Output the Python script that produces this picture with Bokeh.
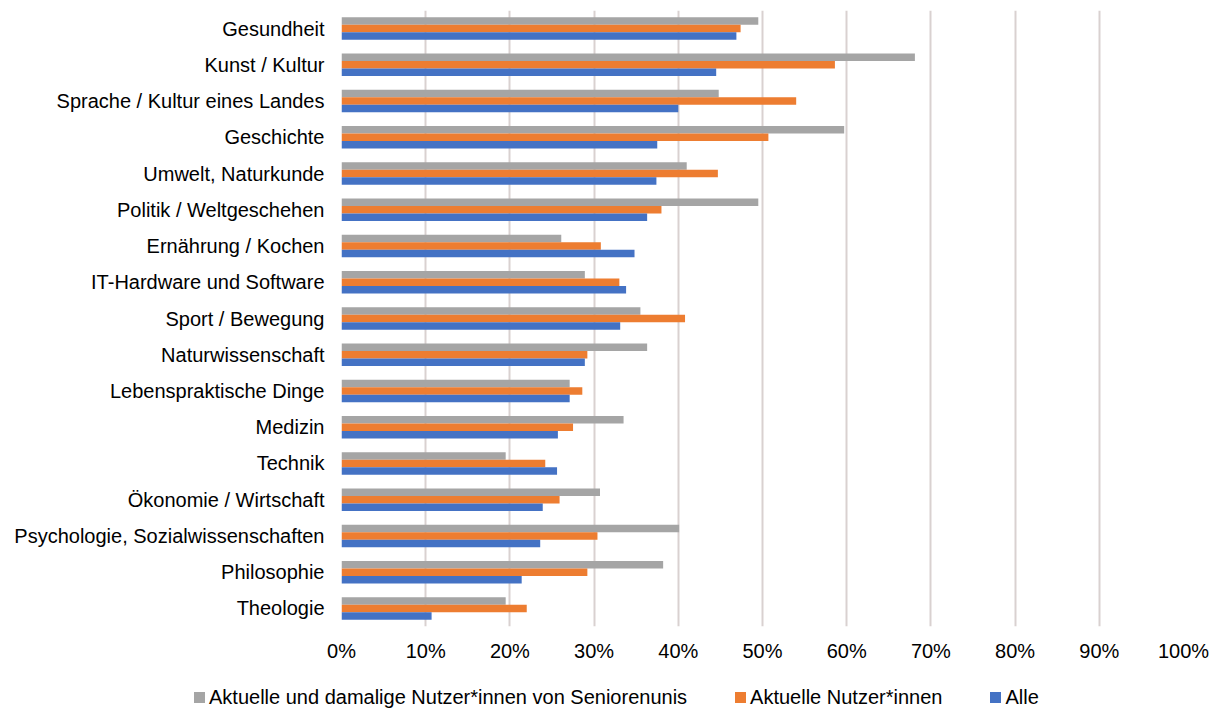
from bokeh.plotting import figure
from bokeh.layouts import column
from bokeh.models import ColumnDataSource, FactorRange, Range1d, NumeralTickFormatter, FixedTicker, Div
from bokeh.transform import dodge
from bokeh.embed import file_html
from bokeh.resources import INLINE

categories = ["Gesundheit", "Kunst / Kultur", "Sprache / Kultur eines Landes", "Geschichte",
              "Umwelt, Naturkunde", "Politik / Weltgeschehen", "Ernährung / Kochen",
              "IT-Hardware und Software", "Sport / Bewegung", "Naturwissenschaft",
              "Lebenspraktische Dinge", "Medizin", "Technik", "Ökonomie / Wirtschaft",
              "Psychologie, Sozialwissenschaften", "Philosophie", "Theologie"]
senioren = [49.5, 68.1, 44.8, 59.7, 41.0, 49.5, 26.1, 28.9, 35.5, 36.3, 27.1, 33.5, 19.5, 30.7, 40.1, 38.2, 19.5]
aktuelle = [47.4, 58.6, 54.0, 50.7, 44.7, 38.0, 30.8, 33.0, 40.8, 29.2, 28.6, 27.5, 24.2, 25.9, 30.4, 29.2, 22.0]
alle = [46.9, 44.5, 40.0, 37.5, 37.4, 36.3, 34.8, 33.8, 33.1, 28.9, 27.1, 25.7, 25.6, 23.9, 23.6, 21.4, 10.7]
series_names = ["Aktuelle und damalige Nutzer*innen von Seniorenunis", "Aktuelle Nutzer*innen", "Alle"]
colors = ["#A5A5A5", "#ED7D31", "#4472C4"]
ticks = [0, 0.1, 0.2, 0.3, 0.4, 0.5, 0.6, 0.7, 0.8, 0.9, 1.0]

FONT = "Liberation Sans"
FS = "20px"
src = ColumnDataSource(dict(cat=categories,
                            s=[v / 100 for v in senioren],
                            a=[v / 100 for v in aktuelle],
                            al=[v / 100 for v in alle]))

p = figure(width=1215, height=666, output_backend="svg", toolbar_location=None,
           y_range=FactorRange(*reversed(categories), range_padding=0),
           x_range=Range1d(0, 1),
           min_border_left=341, min_border_right=32, min_border_top=10, min_border_bottom=40)
p.outline_line_color = None

bh = 0.207
for col, off, c in zip(["s", "a", "al"], [bh, 0, -bh], colors):
    p.hbar(y=dodge("cat", off, range=p.y_range), left=0, right=col, height=bh,
           source=src, fill_color=c, line_color=None)

p.xaxis.ticker = FixedTicker(ticks=ticks)
p.xaxis.formatter = NumeralTickFormatter(format="0%")
for ax in (p.xaxis, p.yaxis):
    ax.axis_line_color = None
    ax.major_tick_line_color = None
    ax.minor_tick_line_color = None
    ax.major_tick_out = 0
    ax.major_tick_in = 0
    ax.minor_tick_out = 0
    ax.major_label_text_font = FONT
    ax.major_label_text_font_size = FS
    ax.major_label_text_color = "#000000"
p.yaxis.major_label_standoff = 17
p.xaxis.major_label_standoff = 13

p.xgrid.grid_line_color = "#D9D1D0"
p.xgrid.grid_line_width = 2
p.ygrid.grid_line_color = None

# legend strip below the chart (HTML legend, same look as the chart legend)
items_html = "".join(
    '<div style="display:flex;align-items:center;">'
    f'<span style="display:inline-block;width:11px;height:11px;background:{c};margin-right:4px;"></span>'
    f'<span>{n}</span></div>'
    for n, c in zip(series_names, colors))
legend_div = Div(width=1215, height=38, text=(
    '<div style="display:flex;align-items:center;gap:48px;box-sizing:border-box;'
    f'height:38px;padding-top:14px;padding-left:189px;font-family:\'{FONT}\';font-size:{FS};'
    'color:#000000;white-space:nowrap;line-height:24px;">' + items_html + '</div>'))

open("out.html", "w").write(file_html(column(p, legend_div, spacing=0), INLINE))
